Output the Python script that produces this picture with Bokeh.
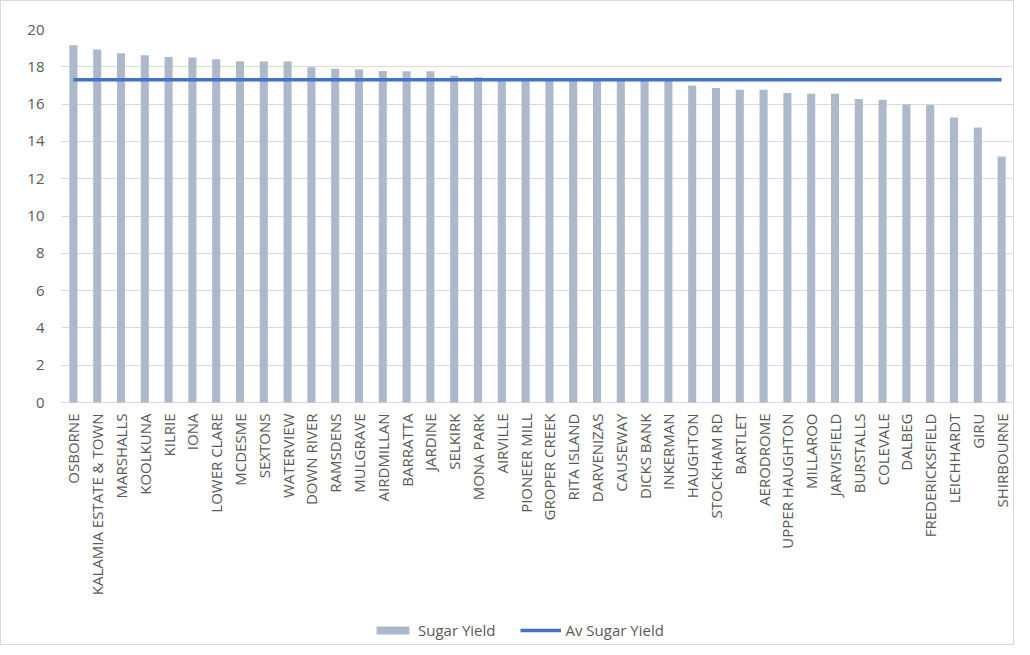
import math
from bokeh.plotting import figure
from bokeh.models import (Range1d, FactorRange, Legend, LegendItem, FixedTicker,
                          LabelSet, ColumnDataSource)
from bokeh.core.properties import value
from bokeh.embed import file_html
from bokeh.resources import INLINE

farms = ["OSBORNE", "KALAMIA ESTATE & TOWN", "MARSHALLS", "KOOLKUNA", "KILRIE", "IONA",
         "LOWER CLARE", "MCDESME", "SEXTONS", "WATERVIEW", "DOWN RIVER", "RAMSDENS",
         "MULGRAVE", "AIRDMILLAN", "BARRATTA", "JARDINE", "SELKIRK", "MONA PARK",
         "AIRVILLE", "PIONEER MILL", "GROPER CREEK", "RITA ISLAND", "DARVENIZAS",
         "CAUSEWAY", "DICKS BANK", "INKERMAN", "HAUGHTON", "STOCKHAM RD", "BARTLET",
         "AERODROME", "UPPER HAUGHTON", "MILLAROO", "JARVISFIELD", "BURSTALLS",
         "COLEVALE", "DALBEG", "FREDERICKSFIELD", "LEICHHARDT", "GIRU", "SHIRBOURNE"]

sugar_yield = [19.15, 18.93, 18.72, 18.62, 18.53, 18.50, 18.40, 18.30, 18.28, 18.28,
               17.97, 17.89, 17.86, 17.77, 17.76, 17.76, 17.52, 17.44, 17.40, 17.36,
               17.32, 17.30, 17.30, 17.28, 17.27, 17.25, 17.00, 16.86, 16.77, 16.77,
               16.59, 16.55, 16.55, 16.27, 16.23, 15.98, 15.95, 15.28, 14.75, 13.19]

av_sugar_yield_value = 17.3
av_sugar_yield = [av_sugar_yield_value for _ in farms]

y_ticks = [0, 2, 4, 6, 8, 10, 12, 14, 16, 18, 20]

FONT = "Open Sans"
TXT = "#595959"

# layout: value axis 0..20 occupies the top 373 px of the frame,
# the rest of the frame holds the category labels and legend
FIG_H = 645
TOP = 28
PLOT_H = 373
FRAME_H = FIG_H - TOP
y_max = 20
y_min = y_max - y_max * FRAME_H / PLOT_H

p = figure(width=1014, height=FIG_H, output_backend="svg", toolbar_location=None,
           x_range=FactorRange(factors=farms), y_range=Range1d(y_min, y_max),
           x_axis_location=None,
           min_border_left=60, min_border_right=2, min_border_top=TOP, min_border_bottom=0)
p.styles = {"border": "1px solid #d9d9d9"}
p.outline_line_color = None
p.background_fill_color = "white"
p.border_fill_color = "white"

bars = p.vbar(x=farms, top=sugar_yield, bottom=0, width=0.34,
              fill_color="#ADB9CA", line_color=None)
avg = p.line(x=farms, y=av_sugar_yield, line_color="#4472C4", line_width=3.5)

p.xgrid.grid_line_color = None
p.ygrid.grid_line_color = "#d9d9d9"
p.ygrid.grid_line_width = 1

p.yaxis.ticker = FixedTicker(ticks=y_ticks)
p.ygrid.ticker = FixedTicker(ticks=y_ticks)
p.yaxis.axis_line_color = None
p.yaxis.major_tick_line_color = None
p.yaxis.minor_tick_line_color = None
p.yaxis.major_tick_out = 0
p.yaxis.major_label_standoff = 17
p.yaxis.major_label_text_font = FONT
p.yaxis.major_label_text_font_size = "15px"
p.yaxis.major_label_text_color = TXT

label_src = ColumnDataSource(dict(x=farms, y=[0 for _ in farms], text=farms))
labels = LabelSet(x="x", y="y", text="text", source=label_src,
                  angle=math.pi / 2, text_align="right", text_baseline="middle",
                  y_offset=-11, text_font=value(FONT), text_font_size=value("15px"),
                  text_color=TXT)
p.add_layout(labels)

legend = Legend(items=[LegendItem(label="Sugar Yield", renderers=[bars]),
                       LegendItem(label="Av Sugar Yield", renderers=[avg])],
                orientation="horizontal", location=(311, 6),
                glyph_width=41, glyph_height=10, label_standoff=5, spacing=24,
                padding=0, margin=0, border_line_color=None, background_fill_alpha=0,
                label_text_font=FONT, label_text_font_size="15px", label_text_color=TXT)
p.add_layout(legend, "center")

open("out.html", "w").write(file_html(p, INLINE))
